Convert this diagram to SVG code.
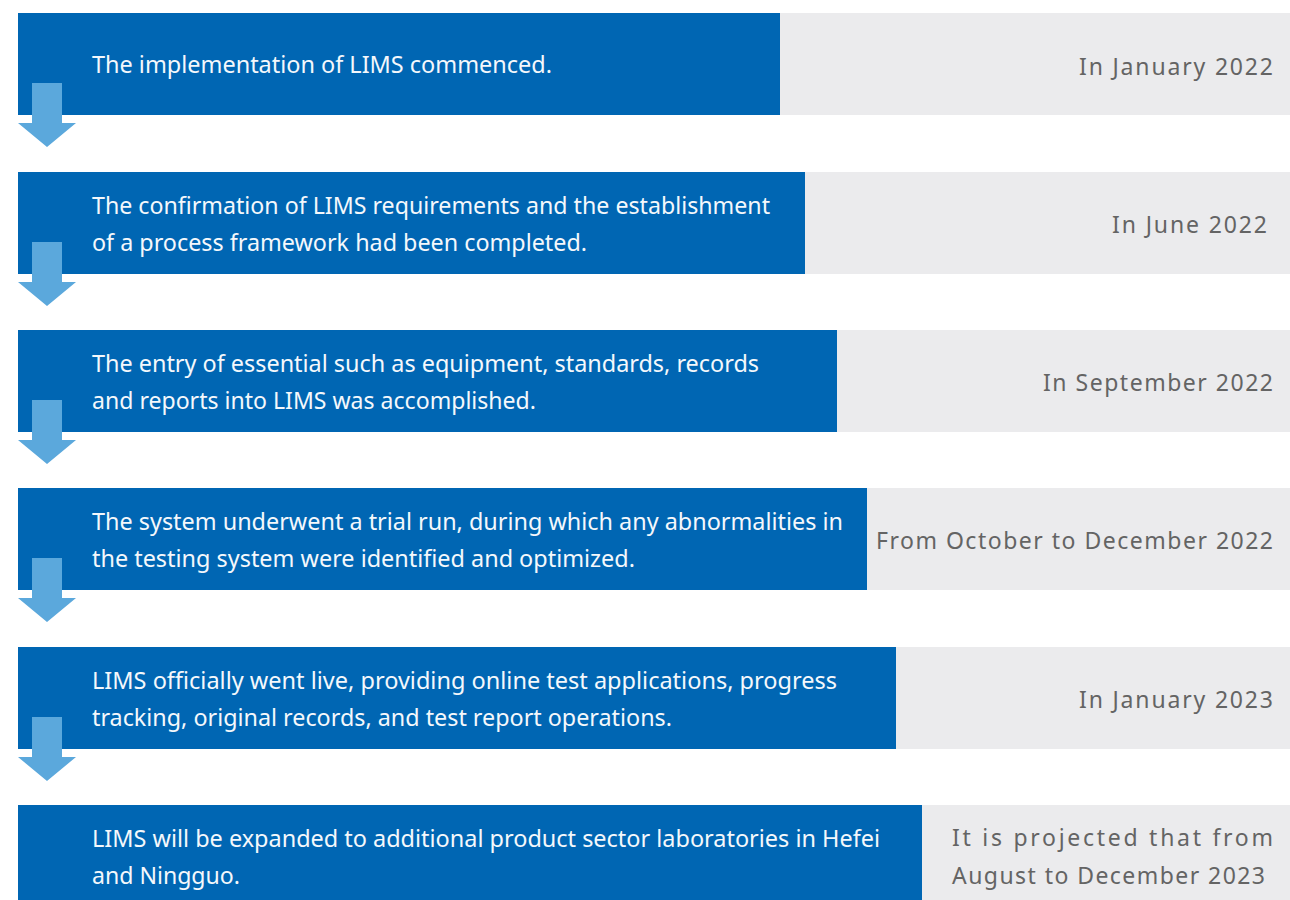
<svg xmlns="http://www.w3.org/2000/svg" xmlns:xlink="http://www.w3.org/1999/xlink" width="1290" height="900" viewBox="0 0 1290 900">
<style>
.bar{fill:#0066B3}
.side{fill:#EBEBED}
.t{font-family:"Noto Sans","Open Sans","Liberation Sans",sans-serif;font-size:23.5px;fill:#F4F8FC}
.d{font-family:"Noto Sans","Open Sans","Liberation Sans",sans-serif;font-size:23px;fill:#646464}
.arr{fill:#5BA8DC}
</style>
<defs>
<path id="ar" class="arr" d="M32 0H62V40H76L47 64L18 40H32Z"/>
</defs>
<rect width="1290" height="900" fill="#ffffff"/>
<g id="n1">
<rect class="side" x="18" y="13" width="1272" height="102"/>
<rect class="bar" x="18" y="13" width="762" height="102"/>
<text class="t" x="92" y="73" textLength="460" lengthAdjust="spacingAndGlyphs">The implementation of LIMS commenced.</text>
<text class="d" x="1079" y="75" textLength="194">In January 2022</text>
</g>
<g id="n2">
<rect class="side" x="18" y="172" width="1272" height="102"/>
<rect class="bar" x="18" y="172" width="787" height="102"/>
<text class="t" x="92" y="214" textLength="678" lengthAdjust="spacingAndGlyphs">The confirmation of LIMS requirements and the establishment</text>
<text class="t" x="92" y="251" textLength="495" lengthAdjust="spacingAndGlyphs">of a process framework had been completed.</text>
<text class="d" x="1112" y="233" textLength="155">In June 2022</text>
</g>
<g id="n3">
<rect class="side" x="18" y="330" width="1272" height="102"/>
<rect class="bar" x="18" y="330" width="819" height="102"/>
<text class="t" x="92" y="372" textLength="667" lengthAdjust="spacingAndGlyphs">The entry of essential such as equipment, standards, records</text>
<text class="t" x="92" y="409" textLength="444" lengthAdjust="spacingAndGlyphs">and reports into LIMS was accomplished.</text>
<text class="d" x="1043" y="391" textLength="230">In September 2022</text>
</g>
<g id="n4">
<rect class="side" x="18" y="488" width="1272" height="102"/>
<rect class="bar" x="18" y="488" width="849" height="102"/>
<text class="t" x="92" y="530" textLength="751" lengthAdjust="spacingAndGlyphs">The system underwent a trial run, during which any abnormalities in</text>
<text class="t" x="92" y="567" textLength="543" lengthAdjust="spacingAndGlyphs">the testing system were identified and optimized.</text>
<text class="d" x="876" y="549" textLength="397">From October to December 2022</text>
</g>
<g id="n5">
<rect class="side" x="18" y="647" width="1272" height="102"/>
<rect class="bar" x="18" y="647" width="878" height="102"/>
<text class="t" x="92" y="689" textLength="745" lengthAdjust="spacingAndGlyphs">LIMS officially went live, providing online test applications, progress</text>
<text class="t" x="92" y="726" textLength="580" lengthAdjust="spacingAndGlyphs">tracking, original records, and test report operations.</text>
<text class="d" x="1079" y="708" textLength="194">In January 2023</text>
</g>
<g id="n6">
<rect class="side" x="18" y="805" width="1272" height="95"/>
<rect class="bar" x="18" y="805" width="904" height="95"/>
<text class="t" x="92" y="847" textLength="788" lengthAdjust="spacingAndGlyphs">LIMS will be expanded to additional product sector laboratories in Hefei</text>
<text class="t" x="92" y="884" textLength="148" lengthAdjust="spacingAndGlyphs">and Ningguo.</text>
<text class="d" x="952" y="846" textLength="321">It is projected that from</text>
<text class="d" x="952" y="884" textLength="313">August to December 2023</text>
</g>
<g id="connectors">
<use xlink:href="#ar" href="#ar" x="0" y="83"/>
<use xlink:href="#ar" href="#ar" x="0" y="242"/>
<use xlink:href="#ar" href="#ar" x="0" y="400"/>
<use xlink:href="#ar" href="#ar" x="0" y="558"/>
<use xlink:href="#ar" href="#ar" x="0" y="717"/>
</g>
</svg>
